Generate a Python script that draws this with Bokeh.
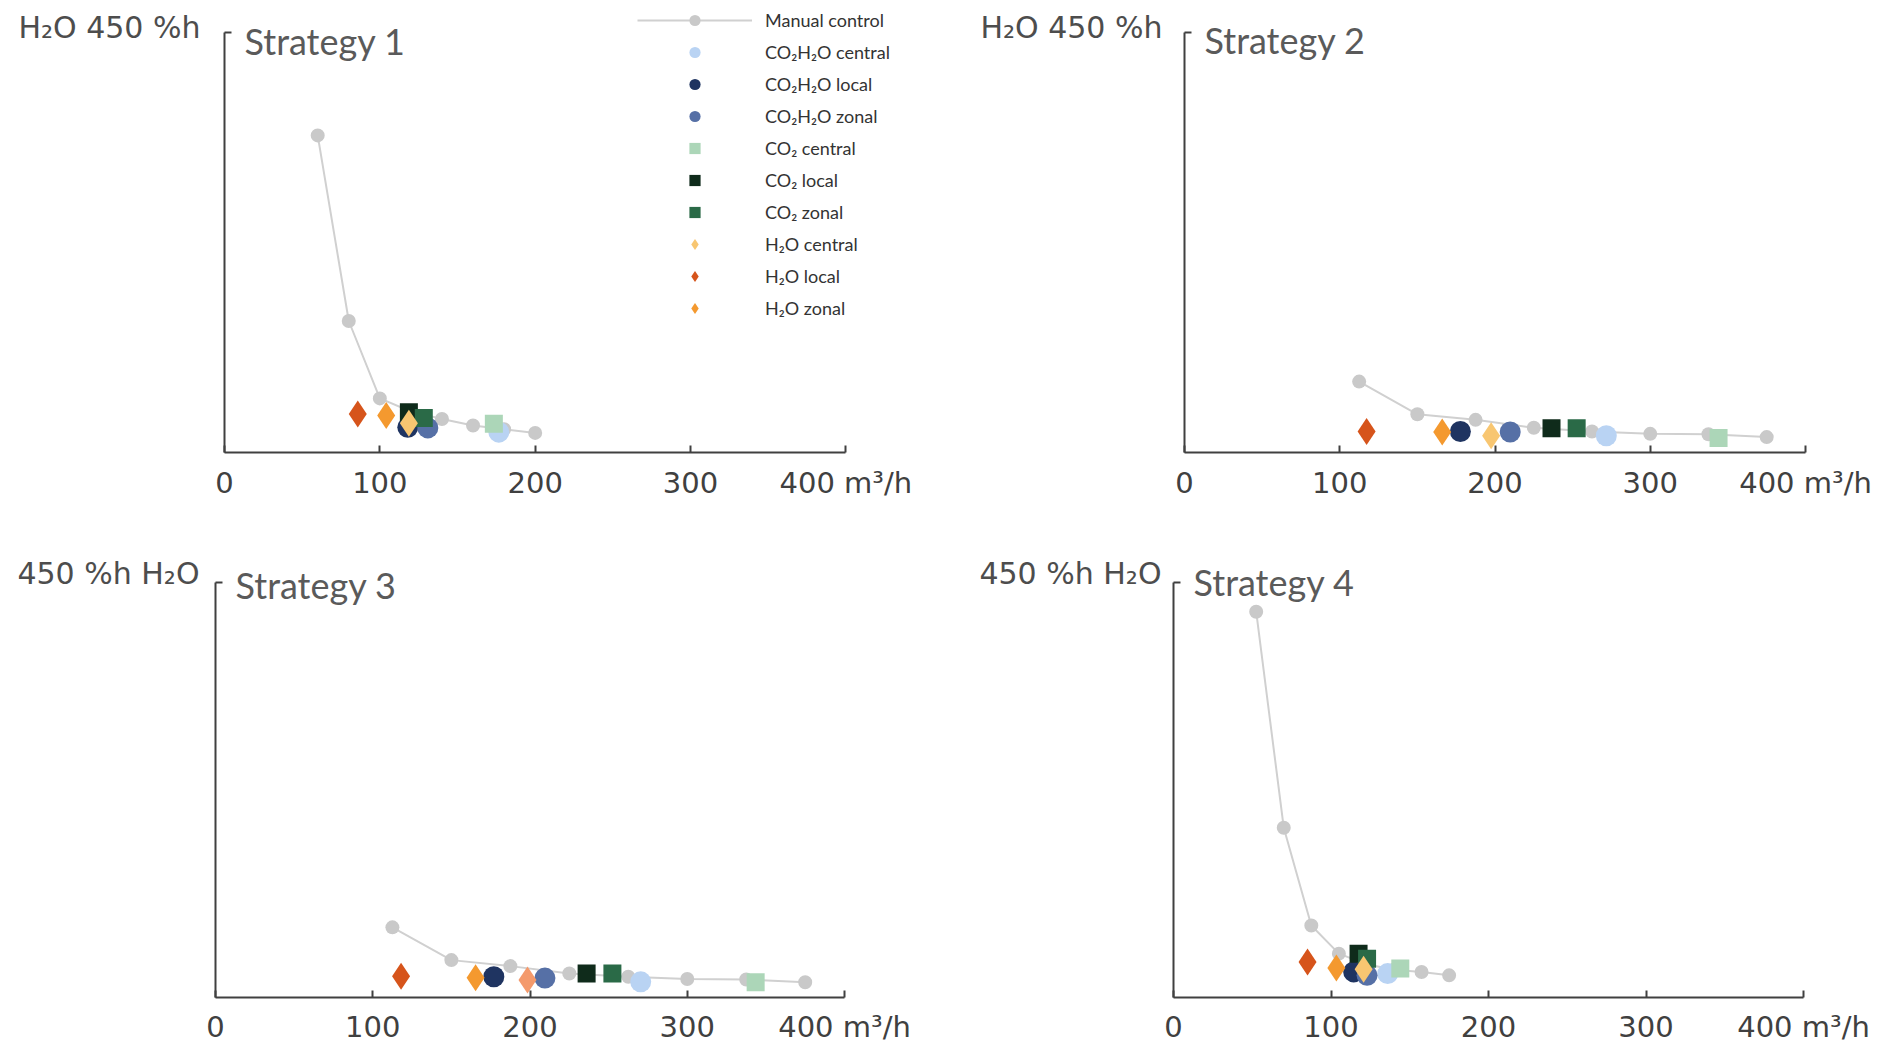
from bokeh.plotting import figure
from bokeh.models import Range1d, FixedTicker, Label, Legend, LegendItem, LinearAxis
from bokeh.layouts import row, column
from bokeh.embed import file_html
from bokeh.resources import INLINE

# ---------------- data ----------------
series_names = ["CO₂H₂O central", "CO₂H₂O local", "CO₂H₂O zonal",
                "CO₂ central", "CO₂ local", "CO₂ zonal",
                "H₂O central", "H₂O local", "H₂O zonal"]
x_ticks = [0, 100, 200, 300, 400]
x_tick_labels = ["0", "100", "200", "300", "400 m³/h"]
y_top = 450

s1_manual_x = [60, 80, 100, 120, 140, 160, 180, 200]
s1_manual_y = [340, 141, 58, 44, 36, 29, 25, 21]
s1_x = [176.6, 118, 130.9, 173.4, 118.7, 128.3, 118.7, 85.8, 104.1]
s1_y = [21.8, 27, 26.4, 30.7, 43.2, 37.1, 31.4, 41.4, 39.6]

s2_manual_x = [112.5, 150, 187.5, 225, 262.5, 300, 337.5, 375]
s2_manual_y = [76, 41, 35, 26.5, 22.5, 20, 19.5, 16.5]
s2_x = [271.7, 177.7, 209.8, 344, 236.4, 252.6, 197.5, 117.3, 166]
s2_y = [18, 22.5, 22, 15.5, 26, 26, 18, 22.5, 22]

s3_manual_x = [112.5, 150, 187.5, 225, 262.5, 300, 337.5, 375]
s3_manual_y = [76, 40.5, 34, 26, 22.5, 20, 19.5, 16.5]
s3_x = [270.4, 177, 209.5, 343.5, 236, 252.4, 198.4, 118, 165.4]
s3_y = [17, 22.5, 21, 16.5, 26, 26, 19, 23, 21.5]

s4_manual_x = [52.5, 70, 87.5, 105, 122.5, 140, 157.5, 175]
s4_manual_y = [418, 184, 78, 47.5, 36, 30, 27.7, 24]
s4_x = [136, 114.4, 122.9, 144, 117.5, 122.9, 120.7, 85.1, 103.4]
s4_y = [25.9, 27.7, 24, 31.3, 47.5, 42, 30.5, 38.5, 32]

# ---------------- style ----------------
markers = ["circle"] * 3 + ["square"] * 3 + ["diamond"] * 3
sizes = [21, 21, 21, 18, 18, 18, 27, 27, 27]
colors = ["#b9d3f3", "#1f3461", "#5670a6",
          "#acd6b8", "#0f2b1b", "#2a6a47",
          "#f8c671", "#d6541b", "#f4992f"]
h2o_central_colors = ["#f8c671", "#f8c671", "#f49a6c", "#f8c671"]
TITLE_FONT = "Lato"
AXIS_FONT = "DejaVu Sans"
AXIS_COLOR = "#404040"


def style_axis_line(ax):
    ax.axis_line_width = 2
    ax.axis_line_color = AXIS_COLOR
    ax.major_tick_line_width = 2
    ax.major_tick_line_color = AXIS_COLOR
    ax.minor_tick_line_color = None
    ax.major_tick_in = 7
    ax.major_tick_out = 0


def make_panel(title, ylabel, mx, my, xs, ys, hc_color, width, height,
               bl, br, bt, bb, x_end, y_end, title_dy, ylab_y, ylab_gap,
               x_standoff, legend=False):
    p = figure(width=width, height=height,
               x_range=Range1d(0, x_end), y_range=Range1d(0, y_end),
               output_backend="svg", toolbar_location=None,
               min_border_left=bl, min_border_right=br,
               min_border_top=bt, min_border_bottom=bb)
    p.outline_line_color = None
    p.grid.visible = False
    p.background_fill_color = "white"
    p.border_fill_color = "white"

    xa = p.xaxis[0]
    style_axis_line(xa)
    xa.bounds = (0, 400)
    xa.ticker = FixedTicker(ticks=x_ticks)
    xa.major_label_overrides = {t: l for t, l in zip(x_ticks, x_tick_labels)}
    xa.major_label_text_font = AXIS_FONT
    xa.major_label_text_font_size = "29px"
    xa.major_label_text_color = AXIS_COLOR
    xa.major_label_standoff = x_standoff

    ya = p.yaxis[0]
    style_axis_line(ya)
    ya.bounds = (0, y_top)
    ya.ticker = FixedTicker(ticks=[y_top])
    ya.major_label_overrides = {y_top: ""}
    ya.major_label_text_font_size = "1px"
    ya.major_label_standoff = 0

    # unit label of the y axis, written by a second (line-less) left axis
    ya2 = LinearAxis(ticker=FixedTicker(ticks=[ylab_y]),
                     major_label_overrides={ylab_y: ylabel})
    ya2.axis_line_color = None
    ya2.major_tick_line_color = None
    ya2.minor_tick_line_color = None
    ya2.major_tick_out = 0
    ya2.major_tick_in = 0
    ya2.major_label_standoff = ylab_gap
    ya2.major_label_text_font = AXIS_FONT
    ya2.major_label_text_font_size = "30px"
    ya2.major_label_text_color = "#4d4d4d"
    p.add_layout(ya2, "left")

    p.add_layout(Label(x=0, y=y_top, x_offset=20, y_offset=title_dy,
                       text=title, text_font=TITLE_FONT, text_font_size="36px",
                       text_color="#5a5a5a", text_align="left",
                       text_baseline="alphabetic"))

    lr = p.line(mx, my, line_color="#d0d0d0", line_width=2)
    dr = p.scatter(mx, my, size=14, fill_color="#c9c9c9", line_color=None)
    rs = []
    for i in range(len(series_names)):
        c = hc_color if i == 6 else colors[i]
        r = p.scatter([xs[i]], [ys[i]], marker=markers[i], size=sizes[i],
                      fill_color=c, line_color=None)
        rs.append(r)

    if legend:
        items = [LegendItem(label="Manual control", renderers=[lr, dr])]
        items += [LegendItem(label=n, renderers=[r]) for n, r in zip(series_names, rs)]
        lg = Legend(items=items, location=(413, 130))
        lg.glyph_width = 115
        lg.glyph_height = 28
        lg.label_height = 28
        lg.spacing = 4
        lg.padding = 0
        lg.margin = 0
        lg.label_standoff = 13
        lg.label_text_font = TITLE_FONT
        lg.label_text_font_size = "18px"
        lg.label_text_color = "#333333"
        lg.border_line_color = None
        lg.background_fill_alpha = 0
        p.add_layout(lg)
    return p


# frame: p1 x 224..923 (0..450), y 9..452 (475..0)
p1 = make_panel("Strategy 1", "H₂O 450 %h", s1_manual_x, s1_manual_y, s1_x, s1_y,
                h2o_central_colors[0], 958, 530, 224, 35, 9, 78, 450, 475,
                -8, 456, 24, 13, legend=True)
p2 = make_panel("Strategy 2", "H₂O 450 %h", s2_manual_x, s2_manual_y, s2_x, s2_y,
                h2o_central_colors[1], 926, 530, 226, 79, 9, 78, 400, 475,
                -7, 456, 22, 13)
p3 = make_panel("Strategy 3", "450 %h H₂O", s3_manual_x, s3_manual_y, s3_x, s3_y,
                h2o_central_colors[2], 958, 516, 215, 114, 24, 47, 400, 480,
                -3, 459, 16, 12)
p4 = make_panel("Strategy 4", "450 %h H₂O", s4_manual_x, s4_manual_y, s4_x, s4_y,
                h2o_central_colors[3], 926, 516, 215, 81, 24, 47, 400, 480,
                0, 459, 12, 12)

layout = column(row(p1, p2), row(p3, p4))
open("out.html", "w").write(file_html(layout, INLINE))
